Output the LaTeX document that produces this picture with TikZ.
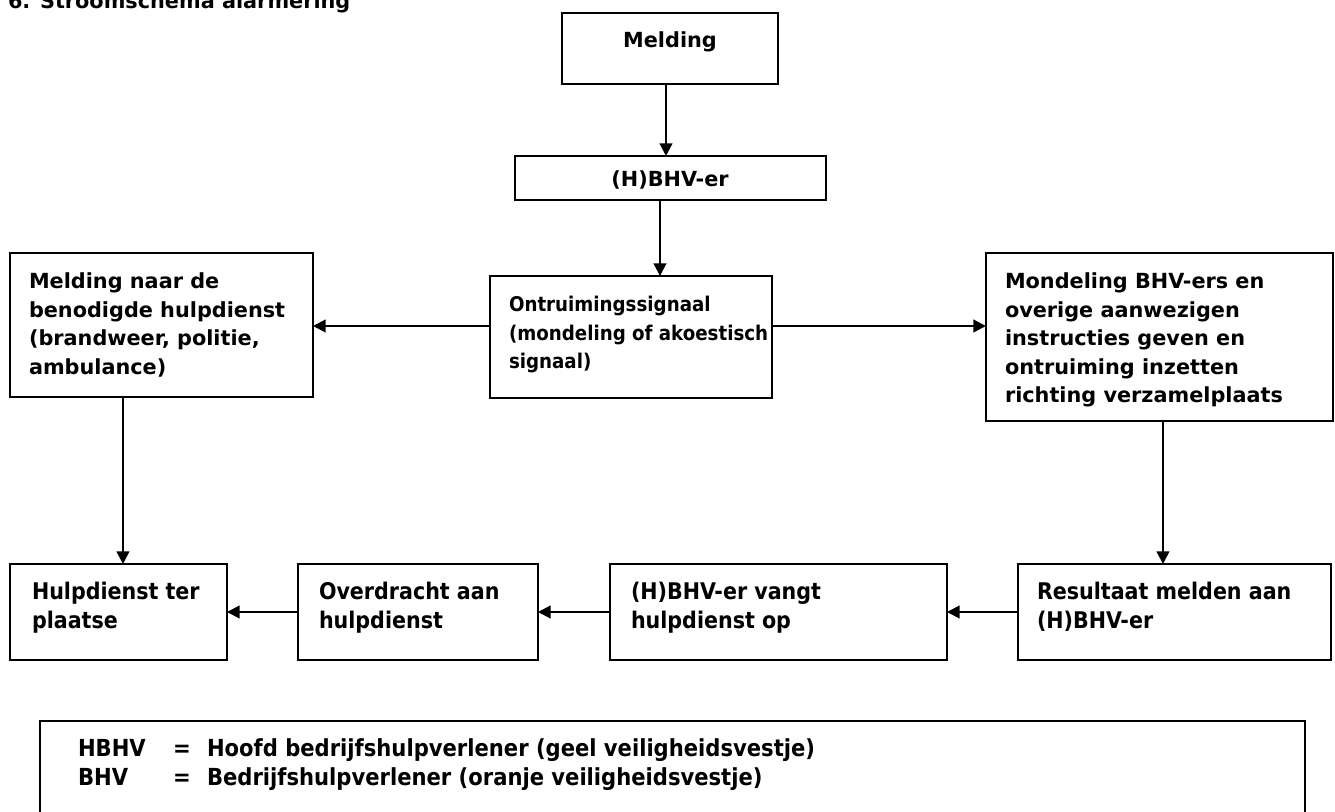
\documentclass[tikz,border=0pt]{standalone}
\usepackage{fontspec}
\setmainfont{DejaVu Sans}
\newfontfamily\condfont{DejaVu Sans Condensed}
\usetikzlibrary{arrows.meta}
\begin{document}
\begin{tikzpicture}[x=0.75pt,y=-0.75pt,
  box/.style={draw, line width=1.6pt, anchor=north west, inner sep=0pt, outer sep=0pt},
  txt/.style={inner sep=0pt, outer sep=0pt, align=left, anchor=base west, font=\bfseries\fontsize{15.6}{21.4}\selectfont},
  ctxt/.style={txt, font=\condfont\bfseries\fontsize{17.2}{21.4}\selectfont},
  otxt/.style={txt, font=\condfont\bfseries\fontsize{15.2}{21.4}\selectfont},
  ltxt/.style={txt, font=\condfont\bfseries\fontsize{17.6}{21.4}\selectfont},
  arr/.style={line width=1.6pt, -{Triangle[length=9.5pt,width=9.5pt]}}]
\clip (0,0) rectangle (1335,812);
\fill[white] (0,0) rectangle (1335,812);

% title (top cut off)
\node[txt] (title) at (8,9) {6. Stroomschema alarmering};

% boxes
\node[box, minimum width=162pt, minimum height=53.25pt] (melding) at (562,13) {};
\node[box, minimum width=233.25pt, minimum height=33pt] (hbhv) at (515,156) {};
\node[box, minimum width=211.5pt, minimum height=91.5pt] (ontr) at (490,276) {};
\node[box, minimum width=227.25pt, minimum height=108pt] (naar) at (10,253) {};
\node[box, minimum width=260.25pt, minimum height=126pt] (mond) at (986,253) {};
\node[box, minimum width=162.75pt, minimum height=72pt] (hulp) at (10,564) {};
\node[box, minimum width=180pt, minimum height=72pt] (over) at (298,564) {};
\node[box, minimum width=252.75pt, minimum height=72pt] (vang) at (610,564) {};
\node[box, minimum width=234.75pt, minimum height=72pt] (resu) at (1018,564) {};
\node[box, minimum width=948.75pt, minimum height=89.25pt] (legend) at (40,721) {};

% texts (base anchor = baseline of the last line)
\node[txt, anchor=base] (meldingT) at (670,48) {Melding};
\node[txt, anchor=base] (hbhvT) at (670,187) {(H)BHV-er};
\node[otxt] (ontrT) at (509,369) {Ontruimingssignaal\\(mondeling of akoestisch\\signaal)};
\node[txt] (naarT) at (29,374.5) {Melding naar de\\benodigde hulpdienst\\(brandweer, politie,\\ambulance)};
\node[txt] (mondT) at (1005,403) {Mondeling BHV-ers en\\overige aanwezigen\\instructies geven en\\ontruiming inzetten\\richting verzamelplaats};
\node[ctxt] (hulpT) at (32,628.5) {Hulpdienst ter\\plaatse};
\node[ctxt] (overT) at (319,628.5) {Overdracht aan\\hulpdienst};
\node[ctxt] (vangT) at (631,628.5) {(H)BHV-er vangt\\hulpdienst op};
\node[ctxt] (resuT) at (1037,628.5) {Resultaat melden aan\\(H)BHV-er};

% legend
\node[ltxt] (lgA1) at (78,756) {HBHV};
\node[ltxt] (lgE1) at (173,756) {=};
\node[ltxt] (lgT1) at (207,756) {Hoofd bedrijfshulpverlener (geel veiligheidsvestje)};
\node[ltxt] (lgA2) at (78,785) {BHV};
\node[ltxt] (lgE2) at (173,785) {=};
\node[ltxt] (lgT2) at (207,785) {Bedrijfshulpverlener (oranje veiligheidsvestje)};

% connectors
\draw[arr] ([xshift=-3pt]melding.south) -- ([xshift=-3pt]melding.south |- hbhv.north);
\draw[arr] ([xshift=-7.9pt]hbhv.south) -- ([xshift=-7.9pt]hbhv.south |- ontr.north);
\draw[arr] ([yshift=8.25pt]ontr.west) -- ([yshift=8.25pt]ontr.west -| naar.east);
\draw[arr] ([yshift=8.25pt]ontr.east) -- ([yshift=8.25pt]ontr.east -| mond.west);
\draw[arr] ([xshift=-28.9pt]naar.south) -- ([xshift=-28.9pt]naar.south |- hulp.north);
\draw[arr] ([xshift=2.6pt]mond.south) -- ([xshift=2.6pt]mond.south |- resu.north);
\draw[arr] (resu.west) -- (vang.east);
\draw[arr] (vang.west) -- (over.east);
\draw[arr] (over.west) -- (hulp.east);
\end{tikzpicture}
\end{document}
